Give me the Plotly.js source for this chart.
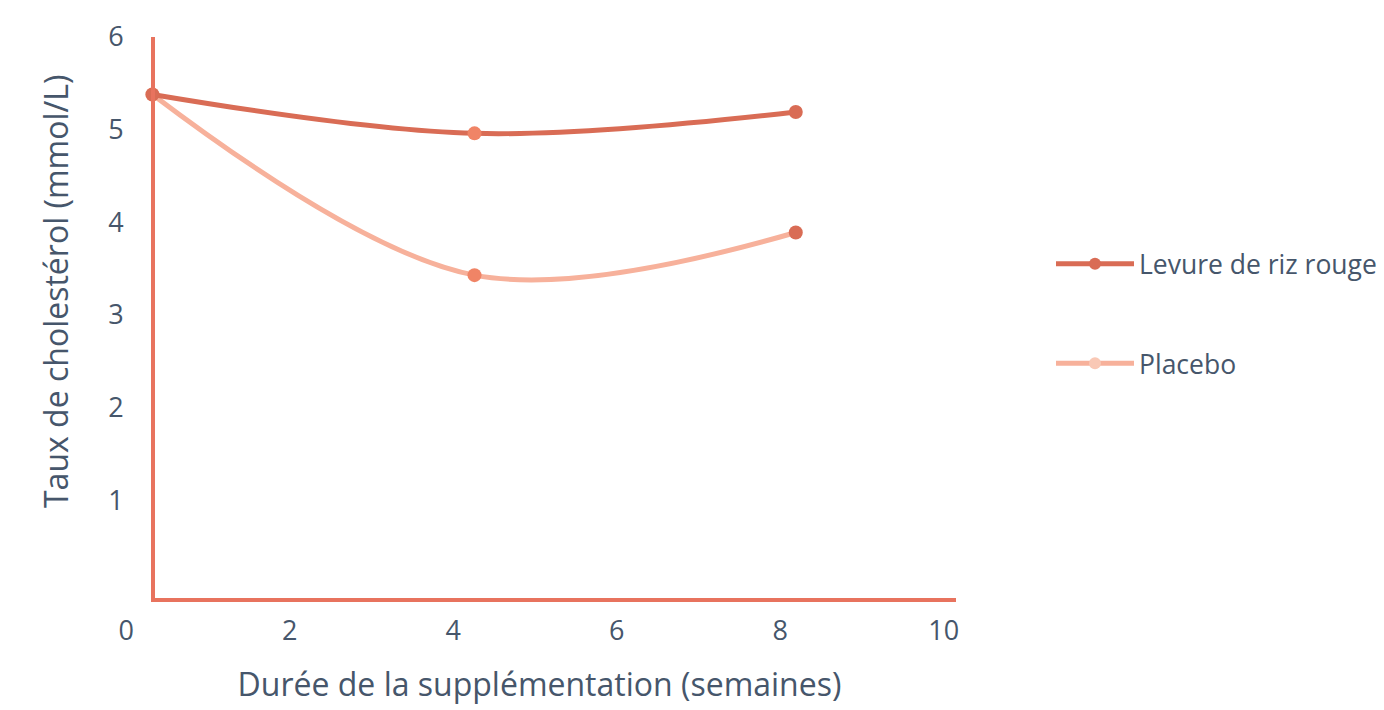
<!DOCTYPE html>
<html>
<head>
<meta charset="utf-8">
<script src="https://cdn.plot.ly/plotly-3.0.1.min.js"></script>
<style>html,body{margin:0;padding:0;background:#fff;}#chart{width:1384px;height:710px;}</style>
</head>
<body>
<div id="chart"></div>
<script>
// Data
const weeks = [0.32, 4.26, 8.19];
const levureValues = [5.38, 4.96, 5.19];
const placeboValues = [5.38, 3.43, 3.89];
const seriesNames = ['Levure de riz rouge', 'Placebo'];
const xTicks = [0, 2, 4, 6, 8, 10];
const yTicks = [1, 2, 3, 4, 5, 6];

const textColor = '#46566b';
const axisColor = '#e8735e';
const darkOrange = '#d96c55';
const lightOrange = '#f7b19b';
const midOrange = '#f08466';
const fontFamily = '"Open Sans", sans-serif';

const placebo = {
  x: weeks, y: placeboValues, name: seriesNames[1],
  type: 'scatter', mode: 'lines+markers',
  line: {color: lightOrange, width: 5, shape: 'spline'},
  marker: {color: ['#f9c8b5', midOrange, darkOrange], size: 14},
  legendgroup: 'b', legendrank: 2
};
const levure = {
  x: weeks, y: levureValues, name: seriesNames[0],
  type: 'scatter', mode: 'lines+markers',
  line: {color: darkOrange, width: 5, shape: 'spline'},
  marker: {color: [darkOrange, midOrange, darkOrange], size: 14},
  legendgroup: 'a', legendrank: 1
};

const L = 123, R = 428, T = 37, B = 110;
const plotW = 1384 - L - R;
const plotH = 710 - T - B;
const yPos = (153 - L) / plotW;

const layout = {
  width: 1384, height: 710,
  margin: {l: L, r: R, t: T, b: B, pad: 0, autoexpand: false},
  paper_bgcolor: '#fff', plot_bgcolor: '#fff',
  font: {family: fontFamily, color: textColor, size: 26},
  showlegend: true,
  legend: {
    x: (1051 - L) / plotW, xanchor: 'left',
    y: (600 - 240) / plotH, yanchor: 'top',
    traceorder: 'grouped', tracegroupgap: 62,
    font: {family: fontFamily, size: 26.5, color: textColor},
    itemwidth: 78, itemsizing: 'constant'
  },
  xaxis: {
    range: [-0.04, 10.15],
    tickvals: xTicks, ticktext: xTicks.map(String),
    showgrid: false, zeroline: false, showline: false,
    ticks: '', ticklabelstandoff: 12,
    tickfont: {family: fontFamily, size: 27, color: textColor},
    title: {text: 'Durée de la supplémentation (semaines)', font: {family: fontFamily, size: 32, color: textColor}, standoff: 26},
    fixedrange: true
  },
  yaxis: {
    range: [-0.076, 6.0],
    anchor: 'free', position: yPos,
    tickvals: yTicks, ticktext: yTicks.map(String),
    showgrid: false, zeroline: false,
    showline: true, linecolor: axisColor, linewidth: 4,
    ticks: '', ticklabelstandoff: 22,
    tickfont: {family: fontFamily, size: 27, color: textColor},
    fixedrange: true
  },
  shapes: [{
    type: 'line', xref: 'paper', yref: 'paper',
    x0: yPos - 2 / plotW, x1: 1, y0: 0, y1: 0,
    line: {color: axisColor, width: 4}
  }],
  annotations: [{
    text: 'Taux de cholestérol (mmol/L)', textangle: -90,
    xref: 'paper', yref: 'paper',
    x: (55 - L) / plotW, xanchor: 'center',
    y: (600 - 292) / plotH, yanchor: 'middle',
    showarrow: false, font: {family: fontFamily, size: 32, color: textColor}
  }]
};

Plotly.newPlot('chart', [placebo, levure], layout, {displayModeBar: false, staticPlot: true});
</script>
</body>
</html>
